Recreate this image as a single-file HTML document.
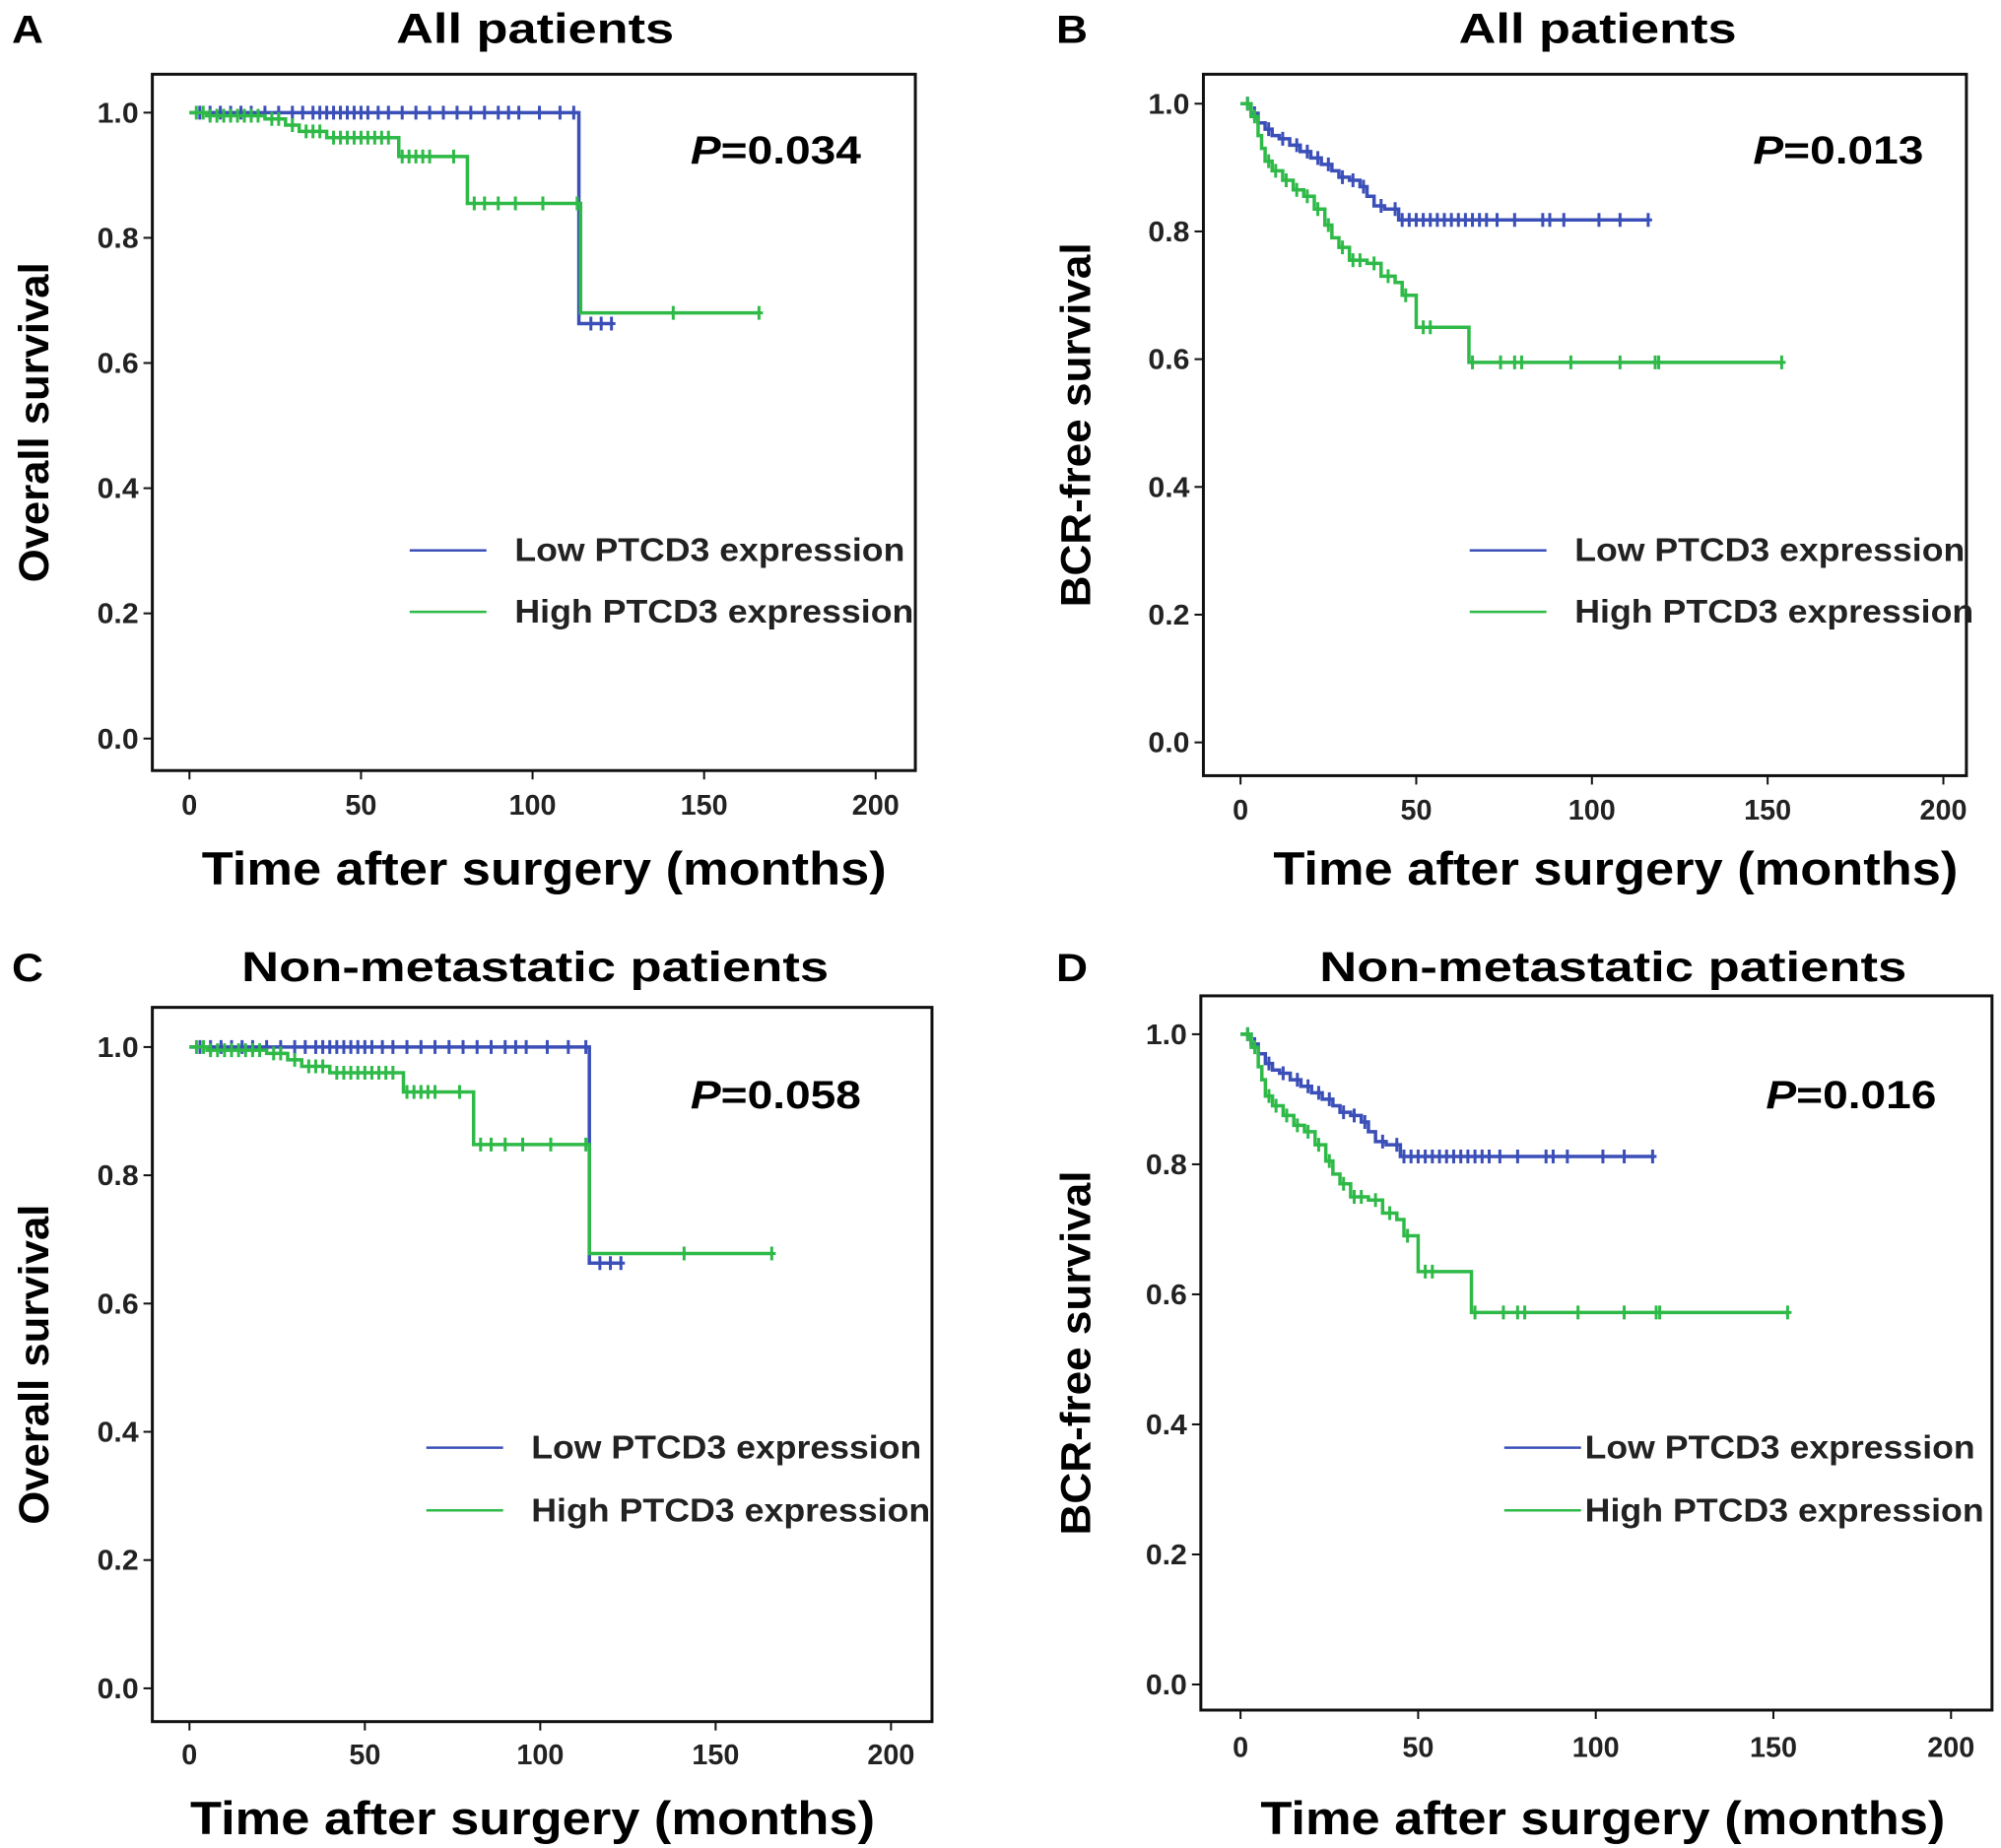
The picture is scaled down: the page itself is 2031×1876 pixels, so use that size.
<!DOCTYPE html>
<html><head><meta charset="utf-8"><style>
html,body{margin:0;padding:0;background:#fff;}
svg{display:block;font-family:"Liberation Sans",Arial,sans-serif;}
</style></head><body>
<svg id="fig" width="2031" height="1876" viewBox="0 0 2031 1876"></svg>
<script>
// ---------- Panel A data ----------
const aLowT=[0,113.5,123];
const aLowS=[1.0,0.663,0.663];
const aLowCens=[3,6,9,12,15,18,22,26,30,33,36,38,40,42,44,46,48,50,52,55,58,62,66,70,74,78,82,86,90,93,96,102,108,112,117,120,123];
const aHighT=[0,5,22,28,32,40,61,81,114,166];
const aHighS=[1.0,0.995,0.99,0.98,0.97,0.96,0.93,0.855,0.68,0.68];
const aHighCens=[2,4,6,8,10,12,14,16,18,20,24,26,30,34,36,38,42,44,46,48,50,52,54,56,58,62,64,66,68,70,77,83,86,90,95,103,113,141,166];
// ---------- Panel B data ----------
const bLowT=[0,3,5,7,9,11,14,17,20,23,26,28,31,34,36,38,41,45,116];
const bLowS=[1.0,0.985,0.97,0.96,0.95,0.945,0.935,0.925,0.915,0.905,0.895,0.885,0.88,0.87,0.855,0.84,0.835,0.818,0.818];
const bLowCens=[2,4,8,12,16,19,22,25,29,32,35,40,44,46,48,50,52,54,56,58,60,62,64,66,68,70,73,78,86,88,92,102,108,116];
const bHighT=[0,3,5,6,7,9,12,15,18,21,24,26,28,31,36,40,44,46,50,65,154];
const bHighS=[1.0,0.98,0.95,0.93,0.91,0.895,0.88,0.865,0.855,0.835,0.81,0.79,0.775,0.755,0.75,0.73,0.72,0.70,0.65,0.595,0.595];
const bHighCens=[2,4,8,10,13,16,19,22,25,29,32,34,38,42,47,52,54,66,74,78,80,94,108,118,119,154];
// ---------- Panel C data ----------
const cLowT=[0,114,123];
const cLowS=[1.0,0.663,0.663];
const cLowCens=[3,6,9,12,15,18,22,26,30,33,36,38,40,42,44,46,48,50,52,55,58,62,66,70,74,78,82,86,90,93,96,102,108,113,117,120,123];
const cHighT=[0,5,22,28,32,40,61,81,114,166];
const cHighS=[1.0,0.995,0.99,0.98,0.97,0.96,0.93,0.848,0.678,0.678];
const cHighCens=[2,4,6,8,10,12,14,16,18,20,24,26,30,34,36,38,42,44,46,48,50,52,54,56,58,62,64,66,68,70,77,83,86,90,95,103,113,141,166];
// ---------- Panel D data ----------
const dLowT=[0,3,5,7,9,11,14,17,20,23,26,28,31,34,36,38,41,45,116];
const dLowS=[1.0,0.985,0.97,0.955,0.945,0.94,0.93,0.92,0.91,0.9,0.89,0.88,0.875,0.865,0.85,0.835,0.83,0.812,0.812];
const dLowCens=[2,4,8,12,16,19,22,25,29,32,35,40,44,46,48,50,52,54,56,58,60,62,64,66,68,70,73,78,86,88,92,102,108,116];
const dHighT=[0,3,5,6,7,9,12,15,18,21,24,26,28,31,36,40,44,46,50,65,154];
const dHighS=[1.0,0.98,0.95,0.93,0.905,0.89,0.875,0.86,0.85,0.83,0.805,0.785,0.77,0.75,0.745,0.725,0.715,0.69,0.635,0.572,0.572];
const dHighCens=[2,4,8,10,13,16,19,22,25,29,32,34,38,42,47,52,54,66,74,78,80,95,108,117,118,154];
// tick labels
const xTicks=[0,50,100,150,200];
const yTicks=[0.0,0.2,0.4,0.6,0.8,1.0];

const S=1.2994;
const NS="http://www.w3.org/2000/svg";
const svg=document.getElementById('fig');
function mk(tag,attrs,parent){const e=document.createElementNS(NS,tag);for(const k in attrs)e.setAttribute(k,attrs[k]);(parent||svg).appendChild(e);return e;}
function txt(s,attrs,parent){const e=mk('text',attrs,parent);e.textContent=s;return e;}

const panels=[
 {id:'a',letter:'A',title:'All patients',tw:282,ylab:'Overall survival',yw:325,p:'0.034',box:[119,58,715,602],x0:148,x200:684,y0:577,y1:88,xl:628,tt:22,xt:678,xtc:425,tc:418,yl:26,pc:606,py:117,lgx:320,lgt:402,lgy:[430,478],
  low:[aLowT,aLowS,aLowCens],high:[aHighT,aHighS,aHighCens]},
 {id:'b',letter:'B',title:'All patients',tw:282,ylab:'BCR-free survival',yw:370,p:'0.013',box:[940,58,1536,606],x0:969,x200:1518,y0:580,y1:81,xl:632,tt:22,xt:678,xtc:1262,tc:1248,yl:840,pc:1436,py:117,lgx:1148,lgt:1230,lgy:[430,478],
  low:[bLowT,bLowS,bLowCens],high:[bHighT,bHighS,bHighCens]},
 {id:'c',letter:'C',title:'Non-metastatic patients',tw:596,ylab:'Overall survival',yw:325,p:'0.058',box:[119,787,728,1345],x0:148,x200:696,y0:1319,y1:818,xl:1370,tt:755,xt:1420,xtc:416,tc:418,yl:26,pc:606,py:855,lgx:333,lgt:415,lgy:[1131,1180],
  low:[cLowT,cLowS,cLowCens],high:[cHighT,cHighS,cHighCens]},
 {id:'d',letter:'D',title:'Non-metastatic patients',tw:596,ylab:'BCR-free survival',yw:370,p:'0.016',box:[938,778,1556,1336],x0:969,x200:1524,y0:1316,y1:808,xl:1364,tt:755,xt:1420,xtc:1252,tc:1260,yl:840,pc:1446,py:855,lgx:1175,lgt:1238,lgy:[1131,1180],
  low:[dLowT,dLowS,dLowCens],high:[dHighT,dHighS,dHighCens]}
];
const BLUE='#3b4fb8', GREEN='#2fba48';

function stepAt(T,Sv,t){let v=Sv[0];for(let i=0;i<T.length;i++){if(T[i]<=t)v=Sv[i];}return v;}

panels.forEach(p=>{
 const g=mk('g',{});
 
 
 const X=t=>(p.x0+(p.x200-p.x0)*t/200)*S;
 const Y=v=>(p.y0+(p.y1-p.y0)*v)*S;
 const [bx0,by0,bx1,by1]=p.box.map(v=>v*S);
 const box=mk('rect',{x:bx0,y:by0,width:bx1-bx0,height:by1-by0,fill:'none',stroke:'#111','stroke-width':3},g);
 
 
 const lt=txt(p.letter,{x:10,y:p.tt*S+15,'font-size':40,'font-weight':'bold',textLength:32,lengthAdjust:'spacingAndGlyphs'},g);
 lt.setAttribute('x',(p.id==='a'||p.id==='c')?12:1072);
 
 
 const ti=txt(p.title,{x:p.tc*S,y:p.tt*S+15,'font-size':43,'font-weight':'bold','text-anchor':'middle',textLength:p.tw,lengthAdjust:'spacingAndGlyphs'},g);
 
 
 xTicks.forEach(v=>{
  const x=X(v);
  mk('line',{x1:x,x2:x,y1:by1,y2:by1+9,stroke:'#111','stroke-width':2},g);
  const t=txt(String(v),{x:x,y:p.xl*S+11,'font-size':29,'font-weight':'bold','text-anchor':'middle',fill:'#222',textLength:String(v).length*16,lengthAdjust:'spacingAndGlyphs'},g);
  
  
 });
 yTicks.forEach(v=>{
  const y=Y(v);
  mk('line',{x1:bx0-9,x2:bx0,y1:y,y2:y,stroke:'#111','stroke-width':2},g);
  const t=txt(v.toFixed(1),{x:bx0-14,y:y+10,'font-size':29,'font-weight':'bold','text-anchor':'end',fill:'#222',textLength:42,lengthAdjust:'spacingAndGlyphs'},g);
  
  
 });
 const xt=txt('Time after surgery (months)',{x:p.xtc*S,y:p.xt*S+17,'font-size':47,'font-weight':'bold','text-anchor':'middle',textLength:695,lengthAdjust:'spacingAndGlyphs'},g);
 
 
 const cy=(by0+by1)/2;
 const yt=txt(p.ylab,{x:0,y:0,'font-size':43,'font-weight':'bold','text-anchor':'middle',textLength:p.yw,lengthAdjust:'spacingAndGlyphs',transform:`translate(${p.yl*S+15},${cy}) rotate(-90)`},g);
 
 
 const pt=mk('text',{x:p.pc*S,y:p.py*S+14,'font-size':40,'font-weight':'bold','text-anchor':'middle',textLength:173,lengthAdjust:'spacingAndGlyphs'},g);
 
 
 const ps=document.createElementNS(NS,'tspan');ps.setAttribute('font-style','italic');ps.textContent='P';pt.appendChild(ps);
 pt.appendChild(document.createTextNode('=0.'+p.p.split('.')[1]));
 [['low',BLUE,'Low PTCD3 expression',396],['high',GREEN,'High PTCD3 expression',405]].forEach((s,i)=>{
  const [T,Sv,C]=p[s[0]];
  let d=`M${X(T[0])},${Y(Sv[0])}`;
  for(let k=1;k<T.length;k++){d+=` H${X(T[k])} V${Y(Sv[k])}`;}
  const path=mk('path',{d:d,fill:'none',stroke:s[1],'stroke-width':3.5},g);
  
  
  C.forEach(t=>{
   const x=X(t),y=Y(stepAt(T,Sv,t));
   const c=mk('path',{d:`M${x},${y-7} V${y+7} M${x-4},${y} H${x+4}`,stroke:s[1],'stroke-width':3,fill:'none'},g);
   
   
  });
  const ly=p.lgy[i]*S;
  const ll=mk('line',{x1:p.lgx*S,x2:(p.lgx+60)*S,y1:ly,y2:ly,stroke:s[1],'stroke-width':2.5},g);
  
  
  const lt2=txt(s[2],{x:p.lgt*S,y:ly+11,'font-size':33,'font-weight':'bold',fill:'#222',textLength:s[3],lengthAdjust:'spacingAndGlyphs'},g);
  
  
 });
});
</script>
</body></html>
